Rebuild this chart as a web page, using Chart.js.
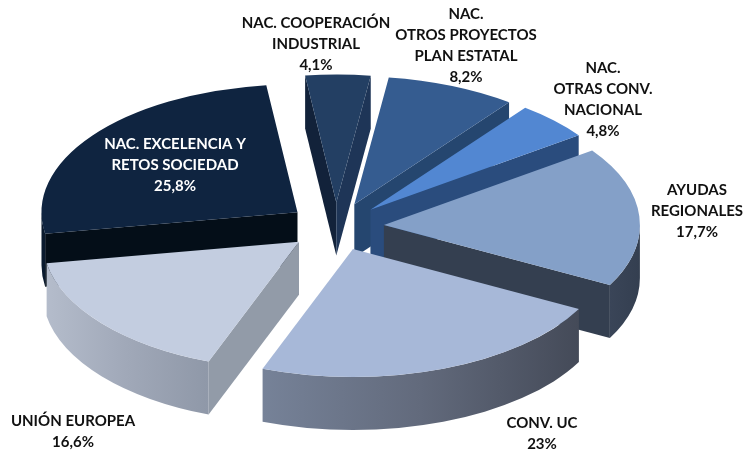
<!DOCTYPE html>
<html>
<head>
<meta charset="utf-8">
<style>
  html, body { margin: 0; padding: 0; background: #fff; }
  canvas { display: block; }
</style>
</head>
<body>
<canvas id="chartFinanciacion" width="749" height="453"></canvas>
<script src="https://cdn.jsdelivr.net/npm/chart.js@4/dist/chart.umd.min.js"></script>
<script>
const categories = [
  ['NAC. COOPERACIÓN', 'INDUSTRIAL'],
  ['NAC.', 'OTROS PROYECTOS', 'PLAN ESTATAL'],
  ['NAC.', 'OTRAS CONV.', 'NACIONAL'],
  ['AYUDAS', 'REGIONALES'],
  ['CONV. UC'],
  ['UNIÓN EUROPEA'],
  ['NAC. EXCELENCIA Y', 'RETOS SOCIEDAD']
];
const values = [4.1, 8.2, 4.8, 17.7, 23, 16.6, 25.8];
const valueLabels = ['4,1%', '8,2%', '4,8%', '17,7%', '23%', '16,6%', '25,8%'];

// Colores de cada porcion: cara superior, paredes rectas y pared curva
const topColors = ['#233f63', '#355c90', '#5287d2', '#84a0c8', '#a7b8d8', '#c3cde0', '#0f2440'];
const wallColors = [
  ['#12223a', '#1e3557'],
  ['#20426c', '#25466f'],
  ['#2a4c7d', '#2a4c7d'],
  ['#343f50', '#343f50'],
  ['#555d6e', '#555d6e'],
  ['#929ba8', '#929ba8'],
  ['#040e18', '#040e18']
];
const rimStops = [
  ['#12223a', '#12223a'],
  ['#25466f', '#25466f'],
  ['#2a4c7d', '#2a4c7d'],
  ['#3a4558', '#343f50'],
  ['#768298', '#626a7c', '#444a58'],
  ['#b4bccb', '#a0a8b8', '#8f98a8'],
  ['#0a1a2e', '#0a1a2e']
];
const labelColors = ['#111', '#111', '#111', '#111', '#111', '#111', '#fff'];
// Centro horizontal y baseline de la primera linea de cada etiqueta
const labelAnchors = [
  [316, 28], [466, 19], [603, 73], [697, 195], [542, 428], [73, 426], [175, 149]
];

const SQUASH = 0.5;
const DEPTH = 53;
const EXPLODE = 48;

const pie3d = {
  id: 'pie3d',
  beforeDatasetDraw(chart) {
    const ctx = chart.ctx;
    const arcs = chart.getDatasetMeta(0).data.slice();
    const order = arcs.map((a, i) => i).sort((p, q) => {
      return Math.sin(mid(arcs[p])) - Math.sin(mid(arcs[q]));
    });
    order.forEach(i => {
      const arc = arcs[i];
      drawWalls(ctx, arc, i);
      ctx.save();
      ctx.translate(arc.x, arc.y);
      ctx.scale(1, SQUASH);
      ctx.translate(Math.cos(mid(arc)) * EXPLODE - arc.x, Math.sin(mid(arc)) * EXPLODE - arc.y);
      arc.draw(ctx);
      ctx.restore();
    });
    return false;
  },
  afterDraw(chart) {
    const ctx = chart.ctx;
    ctx.save();
    ctx.font = 'bold 15px Lato';
    ctx.textAlign = 'center';
    ctx.textBaseline = 'alphabetic';
    categories.forEach((lines, i) => {
      ctx.fillStyle = labelColors[i];
      lines.concat(valueLabels[i]).forEach((line, n) => {
        ctx.fillText(line, labelAnchors[i][0], labelAnchors[i][1] + n * 21);
      });
    });
    ctx.restore();
  }
};

function mid(arc) {
  return (arc.startAngle + arc.endAngle) / 2;
}

function drawWalls(ctx, arc, i) {
  const cx = arc.x + Math.cos(mid(arc)) * EXPLODE;
  const cy = arc.y + Math.sin(mid(arc)) * EXPLODE * SQUASH;
  const R = arc.outerRadius;
  const rim = a => [cx + R * Math.cos(a), cy + R * SQUASH * Math.sin(a)];
  const p0 = rim(arc.startAngle);
  const p1 = rim(arc.endAngle);

  // Paredes rectas: solo las que miran hacia abajo en pantalla
  [[p0, p1, 0], [p1, p0, 1]].forEach(([p, other, w]) => {
    const dx = p[0] - cx, dy = p[1] - cy;
    let nx = dy, ny = -dx;
    if (nx * (other[0] - cx) + ny * (other[1] - cy) > 0) { nx = -nx; ny = -ny; }
    if (ny <= 0) return;
    ctx.fillStyle = wallColors[i][w];
    ctx.beginPath();
    ctx.moveTo(cx, cy);
    ctx.lineTo(p[0], p[1]);
    ctx.lineTo(p[0], p[1] + DEPTH);
    ctx.lineTo(cx, cy + DEPTH);
    ctx.closePath();
    ctx.fill();
  });

  // Pared curva: tramo del borde con seno positivo
  for (let k = -1; k <= 1; k++) {
    const lo = Math.max(arc.startAngle, Math.PI * 2 * k);
    const hi = Math.min(arc.endAngle, Math.PI + Math.PI * 2 * k);
    if (hi <= lo) continue;
    const xa = rim(hi)[0], xb = rim(lo)[0];
    const grad = ctx.createLinearGradient(Math.min(xa, xb), 0, Math.max(xa, xb), 0);
    rimStops[i].forEach((c, n) => grad.addColorStop(n / (rimStops[i].length - 1), c));
    ctx.fillStyle = grad;
    ctx.beginPath();
    ctx.ellipse(cx, cy, R, R * SQUASH, 0, lo, hi);
    ctx.ellipse(cx, cy + DEPTH, R, R * SQUASH, 0, hi, lo, true);
    ctx.closePath();
    ctx.fill();
  }
}

new Chart(document.getElementById('chartFinanciacion').getContext('2d'), {
  type: 'pie',
  data: {
    labels: categories.map(c => c.join(' ')),
    datasets: [{
      data: values,
      backgroundColor: topColors,
      borderWidth: 0
    }]
  },
  options: {
    responsive: false,
    animation: false,
    rotation: -7,
    radius: 256,
    layout: { padding: { right: 77 } },
    plugins: {
      legend: { display: false },
      tooltip: { enabled: false }
    }
  },
  plugins: [pie3d]
});
</script>
</body>
</html>
